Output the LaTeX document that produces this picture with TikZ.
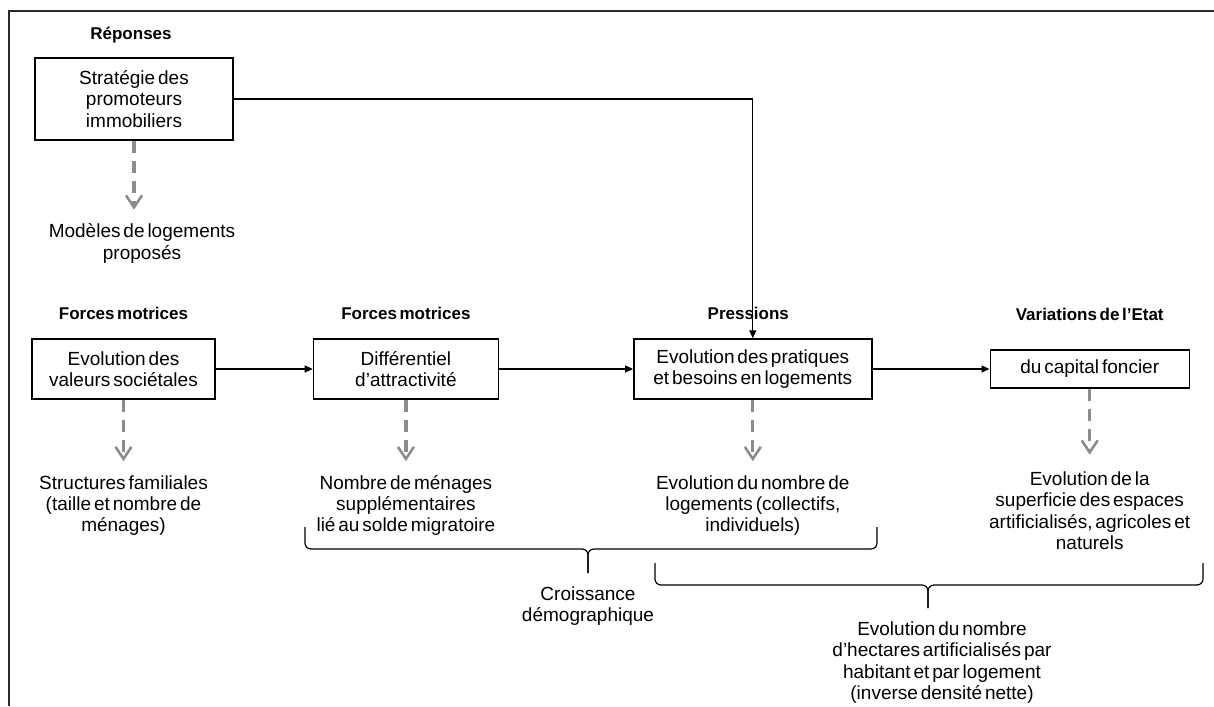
\documentclass[tikz,border=0pt]{standalone}
\usepackage{fontspec}
\setmainfont{Liberation Sans}[WordSpace=0.55]
\usepackage{xcolor}
\definecolor{dashGray}{HTML}{8C8C8C}
\definecolor{frameBlack}{HTML}{2B2B2B}
\usepackage{tikz}
\usetikzlibrary{arrows.meta, positioning}

\begin{document}
\begin{tikzpicture}[
    x=1pt, y=-1pt,
    font=\fontsize{19}{21.3}\selectfont,
    box/.style  ={rectangle, draw=black, line width=1.4pt, minimum height=60pt,
                  inner sep=2pt, align=center},
    title/.style={inner sep=0pt, text height=12.2pt, text depth=0pt,
                  font=\fontsize{17}{19}\selectfont\bfseries},
    lab/.style  ={inner sep=2pt, align=center},
    arrow/.style={-{Triangle[length=8pt,width=7pt]}, line width=1.2pt},
    dasharrow/.style={-{Straight Barb[length=12pt,width=16pt,line width=2.6pt]},
                  line width=3.2pt, color=dashGray, dash pattern=on 12pt off 8pt,
                  shorten >=12pt},
    brace/.style={line width=1.2pt, rounded corners=6pt}
]
\useasboundingbox (0,0) rectangle (1214,706);
\draw[line width=2.2pt, color=frameBlack] (9,706) -- (9,11) -- (1214,11);

% top: responses
\node[box, minimum width=198pt, minimum height=82pt] (strat) at (134,99)
    {Stratégie des\\promoteurs\\immobiliers};
\node[title, above=17.3pt of strat, xshift=-3pt] (tRep) {Réponses};
\node[lab, below=81pt of strat, xshift=8pt] (modeles) {Modèles de logements\\proposés};

% main row
\node[box, minimum width=183pt] (valeurs) at (123.5,369) {Evolution des\\valeurs sociétales};
\node[box, minimum width=185pt, right=97pt of valeurs] (attract) {Différentiel\\d’attractivité};
\node[box, minimum width=238pt, right=134pt of attract] (pratiques)
    {Evolution des pratiques\\et besoins en logements};
\node[box, minimum width=199pt, minimum height=38pt, right=117pt of pratiques] (foncier)
    {du capital foncier};

\node[title, above=18.3pt of valeurs] (tForce1) {Forces motrices};
\node[title, above=18.3pt of attract] (tForce2) {Forces motrices};
\node[title, above=18.3pt of pratiques, xshift=-4.5pt] (tPress) {Pressions};
\node[title, above=28.3pt of foncier] (tVar) {Variations de l’Etat};

% indicators
\node[lab, below=73.5pt of valeurs] (familles) {Structures familiales\\(taille et nombre de\\ménages)};
\node[lab, below=73.5pt of attract] (menages) {Nombre de ménages\\supplémentaires\\lié au solde migratoire};
\node[lab, below=73.5pt of pratiques] (logements) {Evolution du nombre de\\logements (collectifs,\\individuels)};
\node[lab, below=81pt of foncier] (espaces) {Evolution de la\\superficie des espaces\\artificialisés, agricoles et\\naturels};

\draw[arrow] (valeurs) -- (attract);
\draw[arrow] (attract) -- (pratiques);
\draw[arrow] (pratiques) -- (foncier);
\draw[arrow] (strat) -| (pratiques);

\draw[dasharrow] (strat) -- (strat |- modeles.north);
\draw[dasharrow] (valeurs) -- (familles);
\draw[dasharrow] (attract) -- (menages);
\draw[dasharrow] (pratiques) -- (logements);
\draw[dasharrow, shorten >=15pt] (foncier) -- (espaces);

% braces
\coordinate (tipDemo) at (588,573);
\coordinate (tipDens) at (928,608);
\draw[brace] (305,527) -- (305,549) -- (588,549) -- (tipDemo);
\draw[brace] (877,527) -- (877,549) -- (588,549) -- (tipDemo);
\draw[brace] (655,563) -- (655,585) -- (928,585) -- (tipDens);
\draw[brace] (1203,563) -- (1203,585) -- (928,585) -- (tipDens);

\node[lab, below=11.5pt of tipDemo] (croissance) {Croissance\\démographique};
\node[lab, below=11.5pt of tipDens, xshift=14pt] (densite)
    {Evolution du nombre\\d’hectares artificialisés par\\habitant et par logement\\(inverse densité nette)};
\end{tikzpicture}
\end{document}
